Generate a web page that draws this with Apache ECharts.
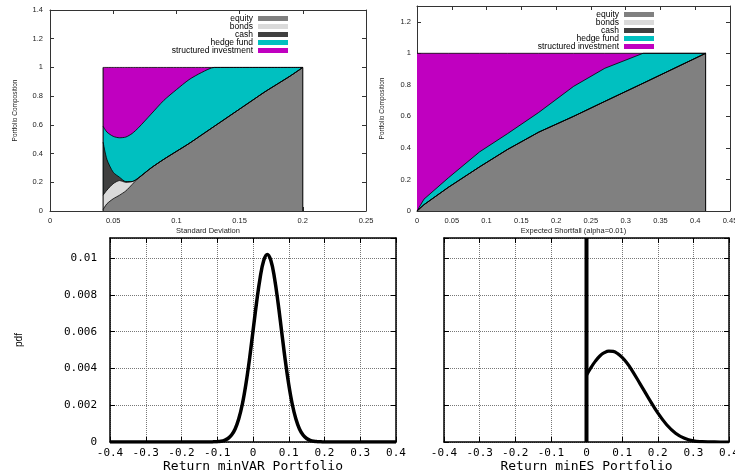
<!DOCTYPE html>
<html>
<head>
<meta charset="utf-8">
<script src="https://cdn.jsdelivr.net/npm/echarts@6/dist/echarts.min.js"></script>
<style>
html, body { margin: 0; padding: 0; background: #fff; }
#chart { width: 735px; height: 470px; }
</style>
</head>
<body>
<div id="chart"></div>
<script>
// asset classes
const assets = ['equity', 'bonds', 'cash', 'hedge fund', 'structured investment'];
const assetColors = ['#808080', '#dadada', '#404040', '#00c0c0', '#c000c0'];

// top left: composition against standard deviation
const sdX = [0.042, 0.045, 0.05, 0.055, 0.06, 0.065, 0.07, 0.08, 0.09, 0.1, 0.11, 0.12, 0.13, 0.14, 0.15, 0.16, 0.17, 0.18, 0.19, 0.2];
const sdEquity = [0.01, 0.05, 0.085, 0.11, 0.14, 0.185, 0.23, 0.30, 0.36, 0.415, 0.47, 0.53, 0.59, 0.65, 0.71, 0.77, 0.83, 0.885, 0.94, 1.0];
const sdBonds = [0.10, 0.095, 0.105, 0.102, 0.06, 0.02, 0, 0, 0, 0, 0, 0, 0, 0, 0, 0, 0, 0, 0, 0];
const sdCash = [0.37, 0.215, 0.08, 0.023, 0.005, 0, 0, 0, 0, 0, 0, 0, 0, 0, 0, 0, 0, 0, 0, 0];
const sdHedge = [0.11, 0.19, 0.25, 0.275, 0.31, 0.335, 0.35, 0.375, 0.41, 0.43, 0.445, 0.435, 0.41, 0.35, 0.29, 0.23, 0.17, 0.115, 0.06, 0];
const sdStruct = [0.41, 0.45, 0.48, 0.49, 0.485, 0.46, 0.42, 0.325, 0.23, 0.155, 0.085, 0.035, 0, 0, 0, 0, 0, 0, 0, 0];

// top right: composition against expected shortfall
const esX = [0, 0.01, 0.045, 0.09, 0.13, 0.175, 0.225, 0.27, 0.325, 0.415];
const esEquity = [0, 0.04, 0.15, 0.28, 0.39, 0.50, 0.60, 0.695, 0.81, 1.0];
const esBonds = [0, 0, 0, 0, 0, 0, 0, 0, 0, 0];
const esCash = [0, 0, 0, 0, 0, 0, 0, 0, 0, 0];
const esHedge = [0, 0.035, 0.06, 0.095, 0.10, 0.125, 0.19, 0.21, 0.19, 0];
const esStruct = [1, 0.925, 0.79, 0.625, 0.51, 0.375, 0.21, 0.095, 0, 0];

// bottom left: return pdf of the minVAR portfolio
const varX = [-0.4, -0.12, -0.11, -0.1, -0.09, -0.08, -0.07, -0.06, -0.05, -0.04, -0.03, -0.02, -0.01, 0, 0.01, 0.02, 0.03, 0.04, 0.05, 0.06, 0.07, 0.08, 0.09, 0.1, 0.11, 0.12, 0.13, 0.14, 0.15, 0.16, 0.17, 0.18, 0.19, 0.2, 0.4];
const varPdf = [0, 0, 0.00001, 0.00002, 0.00004, 0.00009, 0.00019, 0.00038, 0.00071, 0.00125, 0.00204, 0.00313, 0.00448, 0.00603, 0.00759, 0.00894, 0.00987, 0.0102, 0.00987, 0.00894, 0.00759, 0.00603, 0.00448, 0.00313, 0.00204, 0.00125, 0.00071, 0.00038, 0.00019, 0.00009, 0.00004, 0.00002, 0.00001, 0, 0];

// bottom right: return pdf of the minES portfolio (point mass at 0 plus density)
const esRetX = [0, 0.0125, 0.025, 0.0375, 0.05, 0.0625, 0.075, 0.0875, 0.1, 0.1125, 0.125, 0.15, 0.175, 0.2, 0.225, 0.25, 0.275, 0.3, 0.325, 0.35, 0.375, 0.4];
const esRetPdf = [0.00364, 0.00405, 0.0044, 0.00468, 0.00486, 0.00495, 0.00493, 0.00481, 0.0046, 0.00432, 0.00398, 0.00318, 0.00236, 0.00158, 0.00094, 0.00048, 0.0002, 0.00006, 0.00002, 0.00001, 0, 0];
const spikeX = [0, 0];
const spikeY = [0, 0.0111];

const pairs = (xs, ys) => xs.map((x, i) => [x, ys[i]]);

const sans = 'Liberation Sans';
const mono = 'DejaVu Sans Mono';

const topStyle = {
  axisLine: { onZero: false, lineStyle: { color: '#333', width: 1 } },
  axisTick: { inside: true, length: 4, lineStyle: { color: '#333', width: 1 } },
  label: { fontSize: 7.5, color: '#222', fontFamily: sans },
  split: { show: false }
};
const bottomStyle = {
  axisLine: { onZero: false, lineStyle: { color: '#000', width: 1.5 } },
  axisTick: { inside: true, length: 5, lineStyle: { color: '#000', width: 1 } },
  label: { fontSize: 11, color: '#000', fontFamily: mono },
  split: { show: true, lineStyle: { color: '#777', type: 'dotted', width: 1 } }
};

function axisPair(kind, grid, min, max, step, st, o) {
  const main = Object.assign({
    type: 'value', gridIndex: grid, min: min, max: max, interval: step,
    position: kind === 'x' ? 'bottom' : 'left',
    axisLine: st.axisLine, axisTick: st.axisTick,
    axisLabel: Object.assign({ showMaxLabel: kind === 'x', margin: 6 }, st.label, o.label || {}),
    splitLine: st.split,
    nameLocation: 'middle'
  }, o.axis || {});
  const mirror = {
    type: 'value', gridIndex: grid, min: min, max: max, interval: step,
    position: kind === 'x' ? 'top' : 'right',
    axisLine: st.axisLine, axisTick: st.axisTick,
    axisLabel: { show: false }, splitLine: { show: false }
  };
  return [main, mirror];
}

const topName = { fontSize: 7.5, fontFamily: sans, color: '#222' };
const sideName = { fontSize: 6.5, fontFamily: sans, color: '#222' };
const bottomName = { fontSize: 13, fontFamily: mono, color: '#000' };

const xAxis = [].concat(
  axisPair('x', 0, 0, 0.25, 0.05, topStyle, { axis: { name: 'Standard Deviation', nameGap: 16, nameTextStyle: topName } }),
  axisPair('x', 1, 0, 0.45, 0.05, topStyle, { axis: { name: 'Expected Shortfall (alpha=0.01)', nameGap: 16, nameTextStyle: topName } }),
  axisPair('x', 2, -0.4, 0.4, 0.1, bottomStyle, { axis: { name: 'Return minVAR Portfolio', nameGap: 12, nameTextStyle: bottomName } }),
  axisPair('x', 3, -0.4, 0.4, 0.1, bottomStyle, { axis: { name: 'Return minES Portfolio', nameGap: 12, nameTextStyle: bottomName } })
);
const yAxis = [].concat(
  axisPair('y', 0, 0, 1.4, 0.2, topStyle, { label: { margin: 7, showMaxLabel: true }, axis: { name: 'Portfolio Composition', nameGap: 31, nameTextStyle: sideName } }),
  axisPair('y', 1, 0, 1.3, 0.2, topStyle, { label: { margin: 6 }, axis: { name: 'Portfolio Composition', nameGap: 31, nameTextStyle: sideName } }),
  axisPair('y', 2, 0, 0.0111, 0.002, bottomStyle, { label: { margin: 13 }, axis: { name: 'pdf', nameGap: 86, nameTextStyle: { fontSize: 10, fontFamily: sans, color: '#000' } } }),
  axisPair('y', 3, 0, 0.0111, 0.002, bottomStyle, { label: { show: false } })
);

const series = [];
// each band is drawn as the area under its cumulative share, top band first
function addBands(grid, xs, cols, smooth) {
  const cum = [];
  cols.forEach((ys, k) => {
    cum.push(ys.map((v, i) => (k ? cum[k - 1][i] : 0) + v));
  });
  for (let k = cols.length - 1; k >= 0; k--) {
    series.push({
      type: 'line', name: assets[k], xAxisIndex: 2 * grid, yAxisIndex: 2 * grid,
      data: pairs(xs, cum[k]), symbol: 'none', smooth: smooth, silent: true,
      itemStyle: { color: assetColors[k] },
      lineStyle: { color: '#000', width: 0.8 },
      areaStyle: { color: assetColors[k], opacity: 1 }
    });
  }
}
addBands(0, sdX, [sdEquity, sdBonds, sdCash, sdHedge, sdStruct], 0.25);
addBands(1, esX, [esEquity, esBonds, esCash, esHedge, esStruct], false);

function edge(grid, x) {
  series.push({
    type: 'line', name: 'edge', xAxisIndex: 2 * grid, yAxisIndex: 2 * grid,
    data: [[x, 0], [x, 1]], symbol: 'none', silent: true,
    lineStyle: { color: '#000', width: 1 }, z: 3
  });
}
edge(0, sdX[0]);
edge(0, sdX[sdX.length - 1]);
edge(1, esX[esX.length - 1]);

series.push({
  type: 'line', name: 'minVAR', xAxisIndex: 4, yAxisIndex: 4,
  data: pairs(varX, varPdf), symbol: 'none', smooth: 0.4, silent: true,
  lineStyle: { color: '#000', width: 3.5 }, z: 4
});
series.push({
  type: 'line', name: 'minES', xAxisIndex: 6, yAxisIndex: 6,
  data: pairs(esRetX, esRetPdf), symbol: 'none', smooth: 0.4, silent: true,
  lineStyle: { color: '#000', width: 3.2 }, z: 4
});
series.push({
  type: 'line', name: 'minES mass', xAxisIndex: 6, yAxisIndex: 6,
  data: pairs(spikeX, spikeY), symbol: 'none', silent: true,
  lineStyle: { color: '#000', width: 4 }, z: 4
});

function legendAt(right, top) {
  return {
    data: assets, orient: 'vertical', align: 'right', right: right, top: top,
    itemWidth: 30, itemHeight: 5, itemGap: -1, icon: 'rect', padding: 0,
    selectedMode: false,
    itemStyle: { borderWidth: 0 },
    textStyle: { fontSize: 8.5, lineHeight: 8, fontFamily: sans, color: '#000' }
  };
}

const gridBase = { containLabel: false, outerBoundsMode: 'none' };
const chart = echarts.init(document.getElementById('chart'), null, { renderer: 'canvas' });
chart.setOption({
  animation: false,
  backgroundColor: '#fff',
  grid: [
    Object.assign({ left: 50, top: 10, width: 316, height: 201 }, gridBase),
    Object.assign({ left: 417, top: 6, width: 313, height: 205 }, gridBase),
    Object.assign({ left: 110, top: 238, width: 286, height: 204 }, gridBase),
    Object.assign({ left: 444, top: 238, width: 285, height: 204 }, gridBase)
  ],
  legend: [legendAt(447, 14), legendAt(81, 10)],
  xAxis: xAxis,
  yAxis: yAxis,
  series: series
});
</script>
</body>
</html>
